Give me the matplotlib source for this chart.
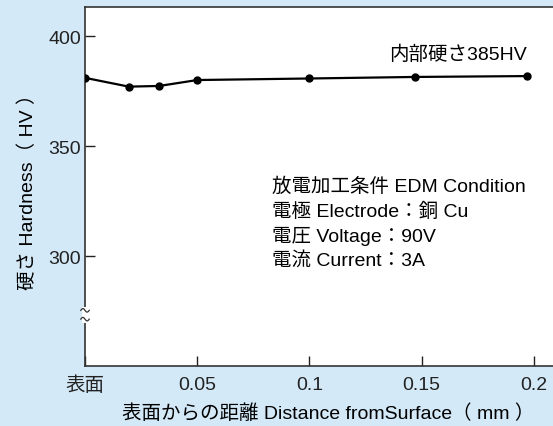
import numpy as np
import matplotlib.pyplot as plt

plt.rcParams['font.family'] = ['Liberation Sans', 'Noto Sans CJK JP', 'DejaVu Sans']

# data
depth_mm = [0.0, 0.0195, 0.033, 0.05, 0.1, 0.147, 0.197]
hardness_hv = [381, 377, 377.3, 380, 380.7, 381.4, 381.8]

xtick_vals = [0.0, 0.05, 0.1, 0.15, 0.2]
xtick_labels = ['表面', '0.05', '0.1', '0.15', '0.2']
ytick_vals = [300, 350, 400]

bg = '#d4e9f7'
fs = 14

fig = plt.figure(figsize=(5.53, 4.27), dpi=100, facecolor=bg)
ax = fig.add_axes([85 / 553, 60 / 427, 1 - 85 / 553, 359 / 427])
ax.set_facecolor('white')

ax.plot(depth_mm, hardness_hv, color='black', lw=1.6, marker='o', ms=5, zorder=3)

ax.set_xlim(0, 0.2085)
ax.set_ylim(250, 413.2)
ax.set_xticks(xtick_vals)
ax.set_xticklabels(xtick_labels)
ax.set_yticks(ytick_vals)
ax.tick_params(direction='in', length=7, width=1, labelsize=fs, pad=3, colors='#222222')
ax.tick_params(axis='x', pad=7)

for side in ['left', 'bottom', 'top']:
    ax.spines[side].set_color('#333333')
    ax.spines[side].set_linewidth(1.2)
ax.spines['right'].set_visible(False)

# axis break mark on the y axis
tr = ax.get_yaxis_transform()
ax.plot([0, 0], [271.3, 275.3], color='white', lw=5, transform=tr, clip_on=False, zorder=5)
t = np.linspace(-1, 1, 30)
for yc in [271.3, 275.3]:
    ax.plot(0.009 * t, yc - 0.8 * np.sin(np.pi * t), color='#333333', lw=0.9,
            transform=tr, clip_on=False, zorder=6)

ax.set_ylabel('硬さ Hardness（ HV ）', fontsize=fs, labelpad=8)
ax.set_xlabel('表面からの距離 Distance fromSurface（ mm ）', fontsize=fs, va='center')
ax.xaxis.set_label_coords(0.519, -0.131)

ax.text(0.197, 391.8, '内部硬さ385HV', ha='right', va='center', fontsize=fs)

cond_lines = ['放電加工条件 EDM Condition', '電極 Electrode：銅 Cu',
              '電圧 Voltage：90V', '電流 Current：3A']
for i, line in enumerate(cond_lines):
    ax.text(0.0835, 331.8 - i * 11.2, line, ha='left', va='center', fontsize=fs)

fig.savefig('out.png', dpi=100, facecolor=bg)
